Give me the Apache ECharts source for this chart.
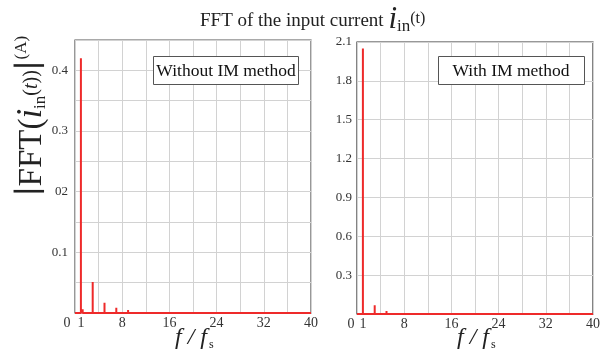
<!DOCTYPE html>
<html>
<head>
<meta charset="utf-8">
<script src="https://cdn.jsdelivr.net/npm/echarts@6/dist/echarts.min.js"></script>
<style>
  html, body { margin: 0; padding: 0; background: #fff; }
  #chart { width: 602px; height: 351px; }
</style>
</head>
<body>
<div id="chart"></div>
<script>
// Harmonic orders (f / fs) and FFT magnitudes of the input current (A)
const ordersWithout = [1, 1.3, 3, 5, 7, 9, 11, 13, 15, 17, 19, 21];
const magsWithout   = [0.42, 0.006, 0.051, 0.017, 0.0085, 0.005, 0.003, 0.002, 0.0015, 0.001, 0.0008, 0.0006];
const ordersWith    = [1, 3, 5, 7, 9, 11, 13, 15, 17, 19];
const magsWith      = [2.05, 0.067, 0.023, 0.013, 0.007, 0.005, 0.003, 0.002, 0.0015, 0.001];

// Axis ticks and labels
const xLabelValues = [0, 1, 8, 16, 24, 32, 40];
const yLabelsWithout = { 10: '0.1', 20: '02', 30: '0.3', 40: '0.4' };
const yLabelsWith = ['0.3', '0.6', '0.9', '1.2', '1.5', '1.8', '2.1'];

const RED = '#ee2a2a';
const SERIF = '"Liberation Serif", "DejaVu Serif", serif';

// Build a stem trace: baseline with a vertical spike at each harmonic
function stemTrace(orders, mags, xmax) {
  const pts = [[0, 0]];
  orders.forEach((h, i) => {
    pts.push([h, 0], [h, mags[i]], [h, 0]);
  });
  pts.push([xmax, 0]);
  return pts;
}

const chart = echarts.init(document.getElementById('chart'), null, { renderer: 'canvas' });

function xAxisCfg(gridIndex, zeroShift) {
  return {
    type: 'value', gridIndex, min: 0, max: 40, interval: 4,
    axisLine: { show: false },
    axisTick: { show: false },
    splitLine: { show: true, lineStyle: { color: '#d2d2d2', width: 1 } },
    axisLabel: {
      customValues: xLabelValues,
      margin: 3,
      color: '#333', fontFamily: SERIF, fontSize: 14,
      formatter: v => v === 0 ? '{z|0}' : String(v),
      rich: { z: { color: '#333', fontFamily: SERIF, fontSize: 14, padding: [0, zeroShift, 0, 0] } }
    }
  };
}

// Axis title "f / fs" below each plot
function freqTitle(cx) {
  return [
    { type: 'text', z: 100, x: cx, y: 338, style: { text: 'f / f', fontFamily: SERIF, fontStyle: 'italic', fontSize: 24, fill: '#222', align: 'center', verticalAlign: 'middle' } },
    { type: 'text', z: 100, x: cx + 18, y: 345, style: { text: 's', fontFamily: SERIF, fontSize: 12, fill: '#222', align: 'left', verticalAlign: 'middle' } }
  ];
}

const option = {
  backgroundColor: '#fff',
  animation: false,
  grid: [
    { left: 75, top: 40, width: 236, height: 273, outerBoundsMode: 'none', show: true, borderColor: '#555', borderWidth: 1.2, backgroundColor: 'transparent' },
    { left: 357, top: 42, width: 236, height: 272, outerBoundsMode: 'none', show: true, borderColor: '#333', borderWidth: 1.2, backgroundColor: 'transparent' }
  ],
  xAxis: [xAxisCfg(0, 16), xAxisCfg(1, 12)],
  yAxis: [
    {
      type: 'value', gridIndex: 0, min: 0, max: 0.45, interval: 0.05,
      axisLine: { show: false }, axisTick: { show: false },
      splitLine: { show: true, lineStyle: { color: '#d2d2d2', width: 1 } },
      axisLabel: {
        margin: 7, color: '#333', fontFamily: SERIF, fontSize: 13,
        showMinLabel: true, showMaxLabel: true,
        formatter: v => yLabelsWithout[Math.round(v * 100)] || ''
      }
    },
    {
      type: 'value', gridIndex: 1, min: 0, max: 2.1, interval: 0.3,
      axisLine: { show: false }, axisTick: { show: false },
      splitLine: { show: true, lineStyle: { color: '#d2d2d2', width: 1 } },
      axisLabel: {
        margin: 5, color: '#333', fontFamily: SERIF, fontSize: 13,
        formatter: v => {
          const k = Math.round(v / 0.3);
          return k > 0 ? yLabelsWith[k - 1] : '';
        }
      }
    }
  ],
  series: [
    {
      type: 'line', xAxisIndex: 0, yAxisIndex: 0,
      data: stemTrace(ordersWithout, magsWithout, 40),
      showSymbol: false, clip: false,
      lineStyle: { color: RED, width: 2 }
    },
    {
      type: 'line', xAxisIndex: 1, yAxisIndex: 1,
      data: stemTrace(ordersWith, magsWith, 40),
      showSymbol: false, clip: false,
      lineStyle: { color: RED, width: 2 }
    }
  ],
  graphic: [
    {
      type: 'text', left: 200, top: 4, z: 100,
      style: {
        text: '{a|FFT of the input current }{i|i}{s|in}{t|(t)}',
        rich: {
          a: { fontFamily: SERIF, fontSize: 19, fill: '#222', lineHeight: 30, verticalAlign: 'bottom', padding: [0, 0, 4, 0] },
          i: { fontFamily: SERIF, fontStyle: 'italic', fontSize: 31, fill: '#222', lineHeight: 30, verticalAlign: 'bottom' },
          s: { fontFamily: SERIF, fontSize: 17, fill: '#222', lineHeight: 30, verticalAlign: 'bottom', padding: [0, 0, 0, 0] },
          t: { fontFamily: SERIF, fontSize: 16, fill: '#222', lineHeight: 30, verticalAlign: 'bottom', padding: [0, 0, 8, 0] }
        }
      }
    },
    {
      type: 'text', x: 30, y: 116, rotation: Math.PI / 2, z: 100,
      style: {
        text: '{b|\u2223FFT(}{i|i}{s|in}{m|(}{t|t}{m|))}{b|\u2223}{a|(A)}',
        align: 'center', verticalAlign: 'middle',
        rich: {
          b: { fontFamily: SERIF, fontSize: 33, fill: '#222', lineHeight: 38, verticalAlign: 'bottom' },
          i: { fontFamily: SERIF, fontStyle: 'italic', fontSize: 35, fill: '#222', lineHeight: 38, verticalAlign: 'bottom' },
          s: { fontFamily: SERIF, fontSize: 17, fill: '#222', lineHeight: 38, verticalAlign: 'bottom' },
          m: { fontFamily: SERIF, fontSize: 20, fill: '#222', lineHeight: 38, verticalAlign: 'bottom', padding: [0, 0, 7, 0] },
          t: { fontFamily: SERIF, fontStyle: 'italic', fontSize: 20, fill: '#222', lineHeight: 38, verticalAlign: 'bottom', padding: [0, 0, 7, 0] },
          a: { fontFamily: SERIF, fontSize: 17, fill: '#222', lineHeight: 22, verticalAlign: 'top', padding: [2, 0, 0, 1] }
        }
      }
    },
    ...freqTitle(191),
    ...freqTitle(473),
    { type: 'rect', z: 100, shape: { x: 153.5, y: 56.5, width: 145, height: 28 }, style: { fill: '#fff', stroke: '#555', lineWidth: 1 } },
    { type: 'text', z: 101, x: 226, y: 71, style: { text: 'Without IM method', fontFamily: SERIF, fontSize: 17.5, fill: '#111', align: 'center', verticalAlign: 'middle' } },
    { type: 'rect', z: 100, shape: { x: 438.5, y: 56.5, width: 146, height: 28 }, style: { fill: '#fff', stroke: '#555', lineWidth: 1 } },
    { type: 'text', z: 101, x: 511, y: 71, style: { text: 'With IM method', fontFamily: SERIF, fontSize: 17.5, fill: '#111', align: 'center', verticalAlign: 'middle' } }
  ]
};

chart.setOption(option);
</script>
</body>
</html>
